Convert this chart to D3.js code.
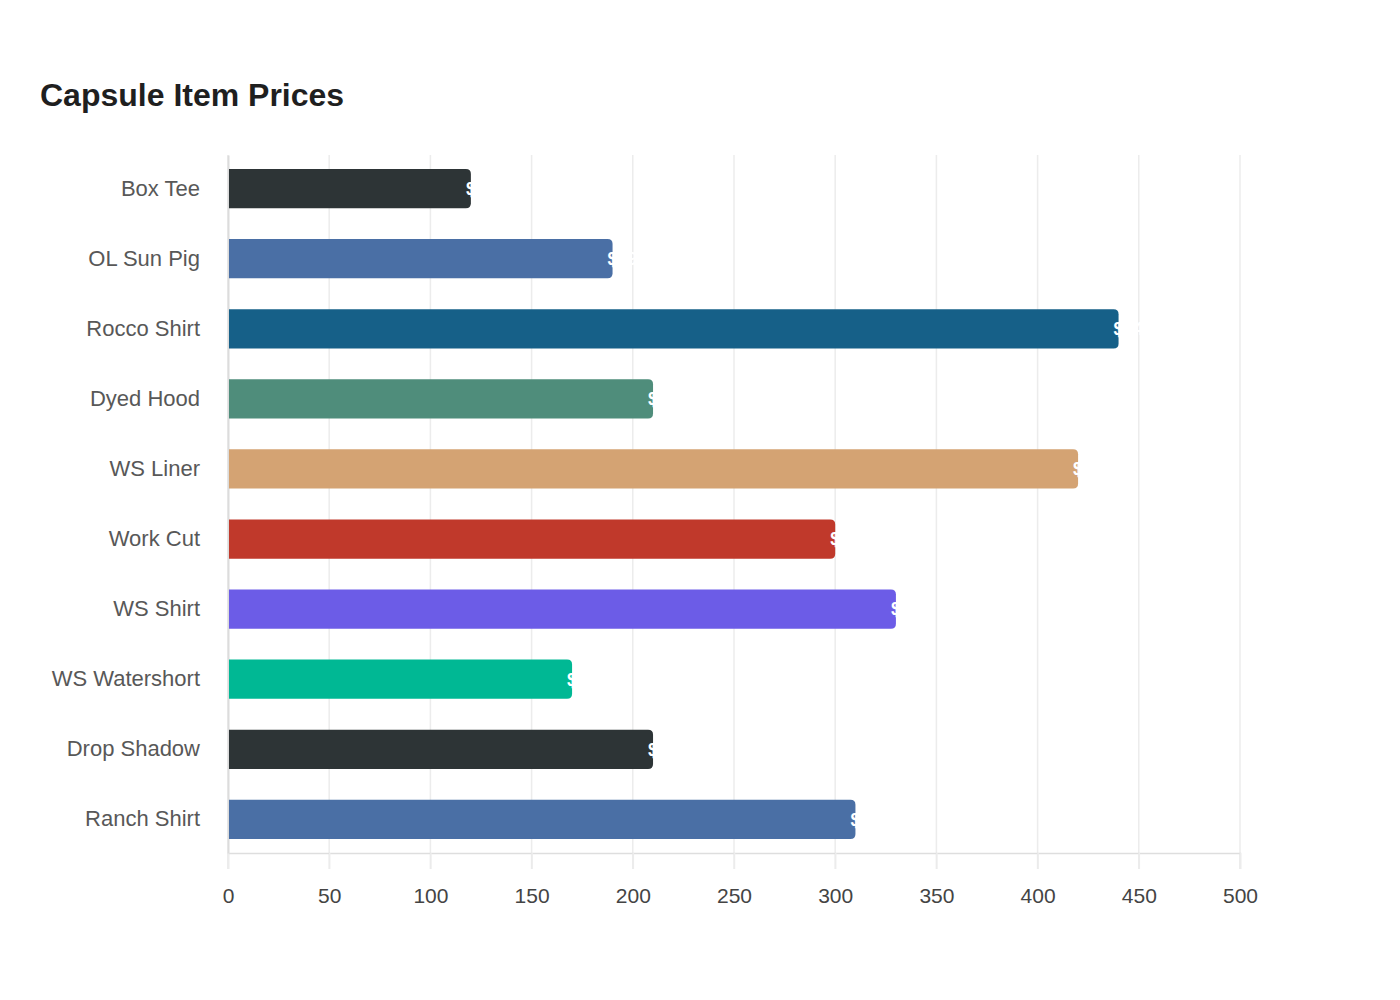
<!DOCTYPE html>
<html>
<head>
<meta charset="utf-8">
<script src="https://cdn.jsdelivr.net/npm/d3@7"></script>
<style>
  body { margin: 0; background: #fff; font-family: "Liberation Sans", Arial, sans-serif; }
</style>
</head>
<body>
<div id="chart"></div>
<script>
// data
const items = ["Box Tee", "OL Sun Pig", "Rocco Shirt", "Dyed Hood", "WS Liner",
  "Work Cut", "WS Shirt", "WS Watershort", "Drop Shadow", "Ranch Shirt"];
const prices = [120, 190, 440, 210, 420, 300, 330, 170, 210, 310];
const barColors = ["#2d3436", "#4a6fa5", "#166088", "#4f8d7b", "#d4a373",
  "#c0392b", "#6c5ce7", "#00b894", "#2d3436", "#4a6fa5"];
const xTicks = [0, 50, 100, 150, 200, 250, 300, 350, 400, 450, 500];

const data = items.map((name, i) => ({ name, price: prices[i], color: barColors[i] }));

const W = 1400, H = 1000;
const margin = { top: 155, right: 160, bottom: 147, left: 228 };
const width = W - margin.left - margin.right;
const height = H - margin.top - margin.bottom;

const svg = d3.select("#chart").append("svg")
  .attr("width", W)
  .attr("height", H);

svg.append("text")
  .attr("x", 40)
  .attr("y", 106)
  .attr("font-size", "32px")
  .attr("font-weight", "bold")
  .attr("fill", "#1f1f1f")
  .text("Capsule Item Prices");

const g = svg.append("g")
  .attr("transform", `translate(${margin.left},${margin.top})`);

const x = d3.scaleLinear().domain([0, 500]).range([0, width]);
const y = d3.scaleBand().domain(items).range([0, height])
  .paddingInner(0.44).paddingOuter(0.2);

// grid lines
g.append("g")
  .selectAll("line")
  .data(xTicks)
  .join("line")
  .attr("x1", d => x(d))
  .attr("x2", d => x(d))
  .attr("y1", 0)
  .attr("y2", height + 16)
  .attr("stroke", "#ececec")
  .attr("stroke-width", 1.5);

// x axis
const xAxis = g.append("g")
  .attr("transform", `translate(0,${height})`)
  .call(d3.axisBottom(x).tickValues(xTicks).tickSize(16).tickPadding(19));
xAxis.select(".domain").attr("stroke", "#dedede").attr("stroke-width", 1.5);
xAxis.selectAll(".tick line").attr("stroke", "#ececec").attr("stroke-width", 1.5);
xAxis.selectAll("text")
  .attr("font-size", "21px")
  .attr("font-family", "Liberation Sans, Arial, sans-serif")
  .attr("fill", "#444");

// y axis
const yAxis = g.append("g")
  .call(d3.axisLeft(y).tickSize(0).tickPadding(28));
yAxis.select(".domain").attr("stroke", "#dcdcdc").attr("stroke-width", 2);
yAxis.selectAll("text")
  .attr("font-size", "22px")
  .attr("font-family", "Liberation Sans, Arial, sans-serif")
  .attr("fill", "#585858");

// bars with rounded right end
const r = 5;
function barPath(d) {
  const x0 = x(0) + 1, x1 = x(d.price), y0 = y(d.name), h = y.bandwidth();
  return `M${x0},${y0}H${x1 - r}Q${x1},${y0} ${x1},${y0 + r}V${y0 + h - r}Q${x1},${y0 + h} ${x1 - r},${y0 + h}H${x0}Z`;
}

g.append("g")
  .selectAll("path")
  .data(data)
  .join("path")
  .attr("d", barPath)
  .attr("fill", d => d.color);

// value labels (white, mostly off the bar end)
g.append("g")
  .selectAll("text")
  .data(data)
  .join("text")
  .attr("x", d => x(d.price) - 5)
  .attr("y", d => y(d.name) + y.bandwidth() / 2)
  .attr("dy", "0.35em")
  .attr("font-size", "18px")
  .attr("font-weight", "bold")
  .attr("fill", "#fff")
  .text(d => `$${d.price}`);
</script>
</body>
</html>
